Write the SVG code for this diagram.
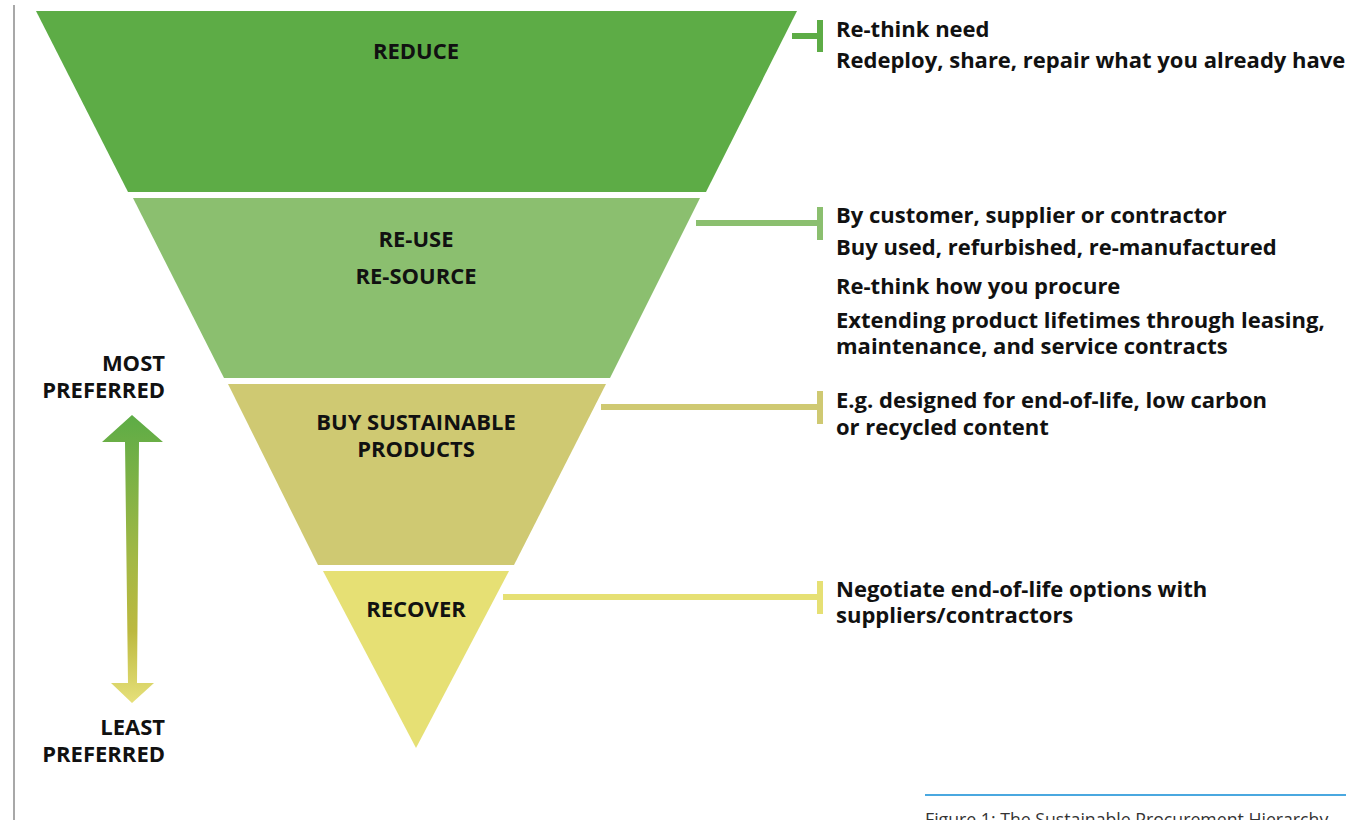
<svg xmlns="http://www.w3.org/2000/svg" width="1363" height="820" viewBox="0 0 1363 820">
<style>
.lbl{font-family:"Open Sans","Noto Sans","Liberation Sans",sans-serif;font-weight:bold;font-size:22px;fill:#111;}
.c{text-anchor:middle;}
.r{text-anchor:end;}
.cap{font-family:"Open Sans","Noto Sans","Liberation Sans",sans-serif;font-size:17.7px;fill:#333;}
</style>
<defs>
<linearGradient id="arrowGrad" x1="0" y1="415" x2="0" y2="703" gradientUnits="userSpaceOnUse">
<stop offset="0" stop-color="#5dac46"/>
<stop offset="0.5" stop-color="#a3b845"/>
<stop offset="0.75" stop-color="#bcb93f"/>
<stop offset="1" stop-color="#e6e07a"/>
</linearGradient>
</defs>
<rect width="1363" height="820" fill="#fff"/>
<line x1="14" y1="5" x2="14" y2="820" stroke="#a8a8a8" stroke-width="2"/>

<g id="connectors">
<path d="M792 36 H820 M820 20 V52" stroke="#5dac46" stroke-width="6" fill="none"/>
<path d="M696 223 H820 M820 207 V240" stroke="#8bbf6f" stroke-width="6" fill="none"/>
<path d="M601 407 H820 M820 391 V424" stroke="#cfc972" stroke-width="6" fill="none"/>
<path d="M503 597 H820 M820 581 V614" stroke="#e6e074" stroke-width="6" fill="none"/>
</g>

<g id="reduce">
<polygon points="36,11 797,11 706,192 128,192" fill="#5dac46"/>
<text class="lbl c" x="416" y="59">REDUCE</text>
</g>
<g id="reuse">
<polygon points="133,198 700,198 610,378 224,378" fill="#8bbf6f"/>
<text class="lbl c" x="416" y="247">RE-USE</text>
<text class="lbl c" x="416" y="284">RE-SOURCE</text>
</g>
<g id="buy">
<polygon points="228,384 606,384 514,565 318,565" fill="#cfc972"/>
<text class="lbl c" x="416" y="430">BUY SUSTAINABLE</text>
<text class="lbl c" x="416" y="457">PRODUCTS</text>
</g>
<g id="recover">
<polygon points="323,571 509,571 416,748" fill="#e6e074"/>
<text class="lbl c" x="416" y="617">RECOVER</text>
</g>

<g id="reduce-notes">
<text class="lbl" x="836" y="37">Re-think need</text>
<text class="lbl" x="836" y="68">Redeploy, share, repair what you already have</text>
</g>
<g id="reuse-notes">
<text class="lbl" x="836" y="223">By customer, supplier or contractor</text>
<text class="lbl" x="836" y="255">Buy used, refurbished, re-manufactured</text>
<text class="lbl" x="836" y="294">Re-think how you procure</text>
<text class="lbl" x="836" y="328">Extending product lifetimes through leasing,</text>
<text class="lbl" x="836" y="354">maintenance, and service contracts</text>
</g>
<g id="buy-notes">
<text class="lbl" x="836" y="408">E.g. designed for end-of-life, low carbon</text>
<text class="lbl" x="836" y="435">or recycled content</text>
</g>
<g id="recover-notes">
<text class="lbl" x="836" y="597">Negotiate end-of-life options with</text>
<text class="lbl" x="836" y="623">suppliers/contractors</text>
</g>

<g id="preference-arrow">
<text class="lbl r" x="165" y="371">MOST</text>
<text class="lbl r" x="165" y="398">PREFERRED</text>
<polygon points="132,415 163,442 139,442 137,683 154,683 132,703 111,683 128,683 125,442 102,442" fill="url(#arrowGrad)"/>
<text class="lbl r" x="165" y="735">LEAST</text>
<text class="lbl r" x="165" y="762">PREFERRED</text>
</g>

<g id="caption">
<line x1="925" y1="795" x2="1346" y2="795" stroke="#4aa8e0" stroke-width="2"/>
<text class="cap" x="925" y="826">Figure 1: The Sustainable Procurement Hierarchy</text>
</g>
</svg>
